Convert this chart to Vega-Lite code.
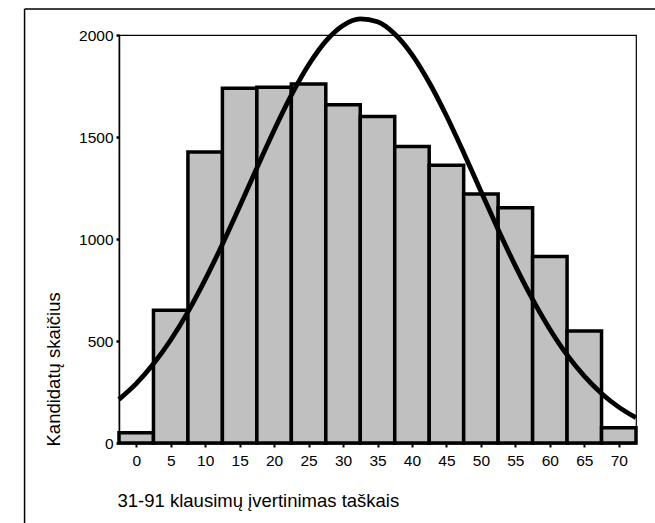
{
  "$schema": "https://vega.github.io/schema/vega-lite/v6.json",
  "width": 517,
  "height": 408,
  "autosize": {"type": "none"},
  "padding": {"left": 119, "top": 35, "right": 19, "bottom": 80},
  "background": "white",
  "config": {
    "font": "Liberation Sans",
    "view": {"stroke": "black", "strokeWidth": 1.2},
    "axis": {"labelColor": "black", "titleColor": "black", "domainColor": "black", "tickColor": "black", "grid": false, "labelFont": "Liberation Sans", "titleFont": "Liberation Sans", "titleFontWeight": "normal"}
  },
  "datasets": {
    "bars": [
      {"x": -2.5, "x2": 2.5, "y": 50},
      {"x": 2.5, "x2": 7.5, "y": 651},
      {"x": 7.5, "x2": 12.5, "y": 1427},
      {"x": 12.5, "x2": 17.5, "y": 1739},
      {"x": 17.5, "x2": 22.5, "y": 1744},
      {"x": 22.5, "x2": 27.5, "y": 1760},
      {"x": 27.5, "x2": 32.5, "y": 1658},
      {"x": 32.5, "x2": 37.5, "y": 1601},
      {"x": 37.5, "x2": 42.5, "y": 1454},
      {"x": 42.5, "x2": 47.5, "y": 1362},
      {"x": 47.5, "x2": 52.5, "y": 1221},
      {"x": 52.5, "x2": 57.5, "y": 1153},
      {"x": 57.5, "x2": 62.5, "y": 914},
      {"x": 62.5, "x2": 67.5, "y": 549},
      {"x": 67.5, "x2": 72.5, "y": 75}
    ],
    "curve": [
      {"x": -2.5, "y": 214}, {"x": 0, "y": 291}, {"x": 2.5, "y": 388}, {"x": 5, "y": 505},
      {"x": 7.5, "y": 643}, {"x": 10, "y": 801}, {"x": 12.5, "y": 974}, {"x": 15, "y": 1159},
      {"x": 17.5, "y": 1348}, {"x": 20, "y": 1533}, {"x": 22.5, "y": 1705}, {"x": 25, "y": 1853},
      {"x": 27.5, "y": 1970}, {"x": 30, "y": 2047}, {"x": 32.5, "y": 2079}, {"x": 35, "y": 2065},
      {"x": 37.5, "y": 2005}, {"x": 40, "y": 1904}, {"x": 42.5, "y": 1767}, {"x": 45, "y": 1604},
      {"x": 47.5, "y": 1423}, {"x": 50, "y": 1234}, {"x": 52.5, "y": 1047}, {"x": 55, "y": 868},
      {"x": 57.5, "y": 704}, {"x": 60, "y": 558}, {"x": 62.5, "y": 432}, {"x": 65, "y": 328},
      {"x": 67.5, "y": 243}, {"x": 70, "y": 176}, {"x": 72.5, "y": 124}
    ],
    "frame": [
      {"x": -16.2, "y": 2127, "x2": 75.3, "y2": 2127},
      {"x": -16.2, "y": 2127, "x2": -16.2, "y2": -400}
    ]
  },
  "encoding": {
    "x": {
      "field": "x", "type": "quantitative",
      "scale": {"domain": [-2.5, 72.5], "nice": false, "zero": false},
      "axis": {
        "values": [0, 5, 10, 15, 20, 25, 30, 35, 40, 45, 50, 55, 60, 65, 70],
        "format": "d", "labelOverlap": false, "labelFlush": false,
        "title": "31-91 klausimų įvertinimas taškais",
        "titleFontSize": 18.5, "titleAnchor": "start", "titleAlign": "left",
        "titleX": -2, "titleY": 57, "titleBaseline": "middle",
        "labelFontSize": 15.5, "labelPadding": 6, "tickSize": 4, "tickWidth": 2,
        "domainWidth": 2
      }
    },
    "y": {
      "field": "y", "type": "quantitative",
      "scale": {"domain": [0, 2000], "nice": false},
      "axis": {
        "values": [0, 500, 1000, 1500, 2000],
        "format": "d", "labelOverlap": false, "labelFlush": false,
        "title": "Kandidatų skaičius",
        "titleFontSize": 18.5, "titleAngle": -90, "titleAlign": "left",
        "titleX": -66, "titleY": 411, "titleBaseline": "middle",
        "labelFontSize": 15.5, "labelPadding": 3, "tickSize": 3, "tickWidth": 2.5,
        "domainWidth": 1.5
      }
    }
  },
  "layer": [
    {
      "data": {"name": "bars"},
      "mark": {"type": "rect", "fill": "#c0c0c0", "stroke": "black", "strokeWidth": 3.5},
      "encoding": {
        "x2": {"field": "x2"},
        "y2": {"datum": 0}
      }
    },
    {
      "data": {"name": "curve"},
      "mark": {"type": "line", "color": "black", "strokeWidth": 4.8, "interpolate": "monotone", "clip": false},
      "encoding": {}
    },
    {
      "data": {"name": "frame"},
      "mark": {"type": "rule", "color": "black", "strokeWidth": 1.5, "clip": false},
      "encoding": {
        "x2": {"field": "x2"},
        "y2": {"field": "y2"}
      }
    }
  ]
}
